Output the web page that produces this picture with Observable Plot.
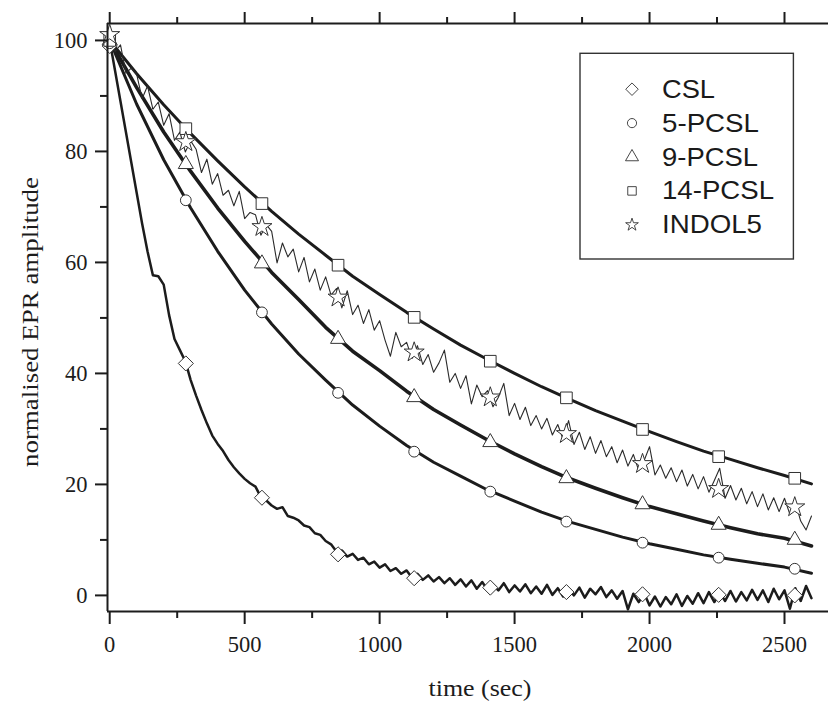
<!DOCTYPE html>
<html>
<head>
<meta charset="utf-8">
<script src="https://cdn.jsdelivr.net/npm/d3@7"></script>
<script src="https://cdn.jsdelivr.net/npm/@observablehq/plot@0.6"></script>
<style>
  body { margin: 0; background: #fff; }
  #chart { width: 828px; height: 702px; }
</style>
</head>
<body>
<div id="chart"></div>
<script>
// ---------------- data ----------------
const seriesNames = ["CSL", "5-PCSL", "9-PCSL", "14-PCSL", "INDOL5"];
const seriesSymbols = ["diamond2", "circle", "triangle2", "square2", "star"];

// noisy traces sampled every 20 s (0 .. 2600 s)
const fineTime = d3.range(0, 2601, 20);
const cslValues = [
  100, 94.5, 89, 83.5, 78, 72.5, 67, 62, 57.7, 57.5,
  56.0, 50.5, 46.2, 44.2, 42.2, 38.8, 36.0, 33.4, 31.0, 28.8,
  27.3, 26.0, 24.4, 23.1, 22.0, 21.0, 20.2, 19.6, 17.7, 17.1,
  16.2, 15.6, 15.9, 14.3, 14.0, 13.5, 12.6, 12.3, 11.2, 10.9,
  9.8, 9.2, 7.9, 8.1, 7.0, 7.5, 6.4, 6.8, 5.6, 6.1,
  5.0, 5.6, 4.4, 4.9, 3.9, 4.5, 3.2, 3.9, 2.8, 3.6,
  2.5, 3.3, 2.2, 3.1, 1.9, 2.9, 1.6, 2.7, 1.2, 2.4,
  1.0, 1.9, 0.9, 2.2, 0.6, 1.8, 0.7, 2.0, 0.4, 1.6,
  0.3, 1.9, 0.1, 1.3, -0.2, 1.1, 0.0, 1.4, -0.4, 1.2,
  0.2, 1.5, -0.3, 0.9, -0.6, 0.8, -2.5, 0.3, -1.2, 0.4,
  -1.8, -0.2, -2.0, -0.3, -1.6, 0.2, -1.9, -0.1, -1.5, 0.4,
  -1.4, 0.6, -1.2, 0.5, -1.0, 0.8, -1.1, 0.6, -0.9, 1.0,
  -0.8, 0.9, -1.2, 1.2, -0.7, 0.9, -2.4, 1.3, -1.0, 1.7,
  -0.5
];
const indol5Values = [
  101.5, 98.0, 99.2, 94.1, 95.0, 93.9, 89.5, 91.8, 87.6, 88.9,
  84.7, 86.8, 82.0, 83.5, 79.9, 81.9, 80.4, 76.2, 78.6, 74.1,
  76.0, 72.1, 73.0, 70.2, 72.8, 67.9, 69.0, 68.6, 64.9, 66.8,
  65.6, 59.9, 63.5, 61.0, 62.4, 58.3, 60.9, 56.5, 58.8, 55.0,
  57.4, 54.1, 55.3, 51.8, 54.9, 50.6, 52.3, 49.0, 51.5, 47.8,
  49.5, 46.0, 43.1, 47.4, 44.8, 45.6, 42.7, 45.0, 41.6, 43.4,
  40.2, 41.9, 44.2, 38.4, 40.0, 37.3, 39.6, 34.5, 37.9, 35.8,
  36.9, 34.0, 35.7, 38.2, 32.4, 34.6, 31.7, 33.9, 30.6, 32.4,
  30.0, 31.9, 28.9, 30.8, 28.1, 31.5, 27.2, 29.4, 26.3, 28.6,
  25.6, 27.9, 25.0, 26.8, 23.9, 26.2, 23.3, 25.4, 22.5, 24.3,
  26.8, 21.7, 23.5, 21.1, 23.0, 20.5, 22.6, 19.7, 21.8, 19.2,
  21.4, 18.6, 20.7, 22.9, 17.5, 19.8, 17.2, 19.3, 16.5, 18.7,
  16.0, 18.3, 15.4, 17.6, 15.1, 17.5, 14.6, 16.8, 13.4, 11.8,
  14.3
];

// smoother traces read every 100 s
const coarseTime = [0, 100, 200, 300, 400, 500, 600, 700, 800, 900, 1000, 1100, 1200, 1300,
  1400, 1500, 1600, 1700, 1800, 1900, 2000, 2100, 2200, 2300, 2400, 2500, 2600];
const pcsl5Values = [100, 88.5, 78.5, 69.8, 62.0, 55.0, 48.9, 43.5, 38.8, 34.3, 30.5, 27.0, 24.0,
  21.5, 19.0, 17.0, 15.0, 13.3, 11.9, 10.5, 9.3, 8.3, 7.3, 6.5, 5.8, 5.1, 4.0];
const pcsl9Values = [100, 91.5, 83.5, 76.4, 69.8, 63.8, 58.2, 53.3, 48.3, 44.0, 40.5, 36.8, 33.5,
  30.7, 28.0, 25.5, 23.2, 21.1, 19.3, 17.6, 16.0, 14.7, 13.4, 12.2, 11.1, 10.3, 8.9];
const pcsl14Values = [100, 94.0, 88.4, 83.2, 78.3, 73.6, 69.2, 65.1, 61.3, 57.5, 54.2, 51.0, 48.0,
  45.1, 42.5, 40.0, 37.6, 35.4, 33.3, 31.4, 29.5, 27.7, 26.0, 24.5, 23.0, 21.6, 20.1];

// symbol markers
const markerTime = [0, 282, 564, 846, 1128, 1410, 1692, 1974, 2256, 2538];
const cslMarkers    = [99.0, 41.8, 17.6, 7.4, 3.1, 1.4, 0.6, 0.2, 0.1, 0.0];
const pcsl5Markers  = [99.5, 71.2, 51.0, 36.5, 25.9, 18.7, 13.3, 9.5, 6.8, 4.8];
const pcsl9Markers  = [100, 77.7, 59.8, 46.2, 35.7, 27.6, 21.1, 16.4, 12.7, 10.0];
const pcsl14Markers = [100, 84.1, 70.6, 59.5, 50.1, 42.2, 35.6, 29.9, 25.0, 21.1];
const indol5Markers = [101, 81.7, 66.4, 53.7, 43.8, 35.7, 29.1, 23.7, 19.2, 15.9];

// axes
const xMajorTicks = [0, 500, 1000, 1500, 2000, 2500];
const xMinorTicks = [250, 750, 1250, 1750, 2250];
const yMajorTicks = [0, 20, 40, 60, 80, 100];
const yMinorTicks = [10, 30, 50, 70, 90];
const xTitle = "time (sec)";
const yTitle = "normalised EPR amplitude";

// ---------------- build ----------------
const rows = (ts, vs) => ts.map((t, i) => ({t, v: vs[i]}));
const traces = [
  {data: rows(fineTime, cslValues), w: 2.5},
  {data: rows(coarseTime, pcsl5Values), w: 3.0},
  {data: rows(coarseTime, pcsl9Values), w: 3.6},
  {data: rows(coarseTime, pcsl14Values), w: 3.0},
  {data: rows(fineTime, indol5Values), w: 1.1}
];
const markerSets = [cslMarkers, pcsl5Markers, pcsl9Markers, pcsl14Markers, indol5Markers];
const markerR = [6.8, 5.4, 7.2, 7.4, 6.3];

const xDomain = [-8.2, 2663];
const yDomain = [-2.9, 103.05];
const ink = "#1c1c1c";
const serif = "'Liberation Serif', 'Times New Roman', serif";
const tickFont = 22.5;

const marks = [];
traces.forEach((tr, i) => {
  marks.push(Plot.line(tr.data, {x: "t", y: "v", stroke: i === 4 ? "#2b2b2b" : ink, strokeWidth: tr.w, strokeLinejoin: "round"}));
});
markerSets.forEach((vals, i) => {
  marks.push(Plot.dot(rows(markerTime, vals), {x: "t", y: "v", symbol: seriesSymbols[i], r: markerR[i], fill: "white", stroke: "#333", strokeWidth: 1}));
});
// frame lines (left, bottom, top)
marks.push(Plot.ruleX([xDomain[0]], {stroke: ink, strokeWidth: 2}));
marks.push(Plot.ruleY([yDomain[0]], {stroke: ink, strokeWidth: 2}));
marks.push(Plot.ruleY([yDomain[1]], {stroke: ink, strokeWidth: 2}));
// axes
marks.push(Plot.axisY(yMajorTicks, {anchor: "left", tickSize: 12, tickPadding: 8, strokeWidth: 2, fontSize: tickFont, fontFamily: serif, fill: ink, stroke: ink, label: null, tickFormat: d => String(d)}));
marks.push(Plot.axisY(yMinorTicks, {anchor: "left", tickSize: 7, strokeWidth: 2, stroke: ink, fill: "none", label: null}));
marks.push(Plot.axisX(xMajorTicks, {anchor: "bottom", tickSize: 13, tickPadding: 12, strokeWidth: 2, fontSize: tickFont, fontFamily: serif, fill: ink, stroke: ink, label: null, tickFormat: d => String(d)}));
marks.push(Plot.axisX(xMinorTicks, {anchor: "bottom", tickSize: 7, strokeWidth: 2, stroke: ink, fill: "none", label: null}));
marks.push(Plot.axisX(xMajorTicks, {anchor: "top", tickSize: 12, strokeWidth: 2, stroke: ink, fill: "none", label: null}));
marks.push(Plot.axisX(xMinorTicks, {anchor: "top", tickSize: 7, strokeWidth: 2, stroke: ink, fill: "none", label: null}));

const chart = Plot.plot({
  width: 828,
  height: 702,
  marginTop: 23,
  marginRight: 0,
  marginBottom: 91,
  marginLeft: 107,
  x: {domain: xDomain, label: null},
  y: {domain: yDomain, label: null},
  style: {fontFamily: serif, fontSize: tickFont + "px", color: ink, background: "white", overflow: "visible"},
  marks
});
document.getElementById("chart").appendChild(chart);

// ---------------- titles & legend ----------------
const svg = d3.select(chart);
svg.append("text")
  .attr("transform", "translate(38,322) rotate(-90)")
  .attr("text-anchor", "middle")
  .attr("font-family", serif).attr("font-size", 24).attr("fill", ink)
  .attr("textLength", 290).attr("lengthAdjust", "spacingAndGlyphs")
  .text(yTitle);
svg.append("text")
  .attr("x", 480).attr("y", 696)
  .attr("text-anchor", "middle")
  .attr("font-family", serif).attr("font-size", 23).attr("fill", ink)
  .attr("textLength", 103).attr("lengthAdjust", "spacingAndGlyphs")
  .text(xTitle);

const legend = svg.append("g").attr("text-anchor", "start");
legend.append("rect")
  .attr("x", 580).attr("y", 53.3).attr("width", 213.4).attr("height", 205.7)
  .attr("fill", "white").attr("stroke", "#333").attr("stroke-width", 1.4);
const legendSym = [d3.symbolDiamond2, d3.symbolCircle, d3.symbolTriangle2, d3.symbolSquare2, d3.symbolStar];
const legendSize = [100, 66, 121, 92, 50];
const legendWidths = [53, 97, 96, 112, 100];
seriesNames.forEach((name, i) => {
  const base = 97.7 + i * 33.9;
  legend.append("path")
    .attr("d", d3.symbol(legendSym[i], legendSize[i])())
    .attr("transform", `translate(632,${base - 8.5})`)
    .attr("fill", "white").attr("stroke", "#333").attr("stroke-width", 0.9);
  legend.append("text")
    .attr("x", 662).attr("y", base)
    .attr("text-anchor", "start")
    .attr("font-family", "'Liberation Sans', Arial, sans-serif").attr("font-size", 25)
    .attr("fill", "#1a1a1a")
    .attr("textLength", legendWidths[i]).attr("lengthAdjust", "spacingAndGlyphs")
    .text(name);
});
</script>
</body>
</html>
